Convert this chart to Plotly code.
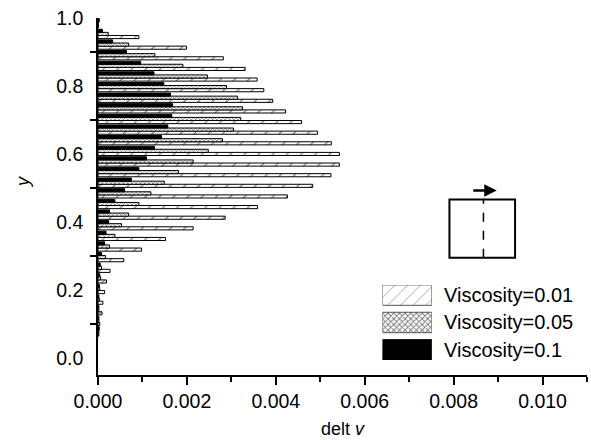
import plotly.graph_objects as go

# ---- data ----
# group index k -> y position (k + 0.5) / 32
group_k = [31, 30, 29, 28, 27, 26, 25, 24, 23, 22, 21, 20, 19, 18, 17, 16,
           15, 14, 13, 12, 11, 10, 9, 8, 7, 6, 5, 4, 3, 2]
y_pos = [(k + 0.5) / 32 for k in group_k]

dv_visc_001 = [0.00001, 0.00092, 0.00199, 0.00282, 0.00331, 0.00358, 0.00373, 0.00393,
               0.00422, 0.00458, 0.00494, 0.00525, 0.00543, 0.00543, 0.00524, 0.00483,
               0.00426, 0.00359, 0.00286, 0.00214, 0.00152, 0.00098, 0.00058, 0.00027,
               0.00019, 0.00015, 0.00011, 0.00009, 0.00004, 0.00002]
dv_visc_005 = [0.00001, 0.00023, 0.00069, 0.00128, 0.00191, 0.00246, 0.00289, 0.00314,
               0.00325, 0.00321, 0.00305, 0.00280, 0.00248, 0.00214, 0.00181, 0.00149,
               0.00119, 0.00092, 0.00069, 0.00053, 0.00038, 0.00026, 0.00017, 0.00008,
               0.00006, 0.00004, 0.00003, 0.00002, 0.00002, 0.00002]
dv_visc_01 = [0.00003, 0.00010, 0.00033, 0.00064, 0.00096, 0.00126, 0.00148, 0.00163,
              0.00168, 0.00166, 0.00157, 0.00143, 0.00127, 0.00109, 0.00092, 0.00075,
              0.00060, 0.00038, 0.00026, 0.00024, 0.00018, 0.00015, 0.00008, 0.00005,
              0.00004, 0.00003, 0.00002, 0.00002, 0.00002, 0.00003]

series_names = ["Viscosity=0.01", "Viscosity=0.05", "Viscosity=0.1"]
x_ticks = [0.000, 0.002, 0.004, 0.006, 0.008, 0.010]
y_ticks = [0.0, 0.2, 0.4, 0.6, 0.8, 1.0]
y_minor = [0.1, 0.3, 0.5, 0.7, 0.9]

# legend swatch rows (top to bottom)
legend_rows = [2, 1, 0]
legend_len = [1, 1, 1]

FONT = "Liberation Sans, Arial, sans-serif"

styles = [
    dict(color="white", pattern=dict(shape="/", fgcolor="black", bgcolor="white", size=10, solidity=0.12),
         line=dict(color="black", width=1)),
    dict(color="white", pattern=dict(shape="x", fgcolor="black", bgcolor="white", size=3, solidity=0.45),
         line=dict(color="black", width=1)),
    dict(color="black", line=dict(color="black", width=1)),
]
legend_styles = [
    dict(color="white", pattern=dict(shape="/", fgcolor="#444", bgcolor="white", size=9, solidity=0.1),
         line=dict(color="#555", width=1)),
    dict(color="white", pattern=dict(shape="x", fgcolor="black", bgcolor="white", size=4, solidity=0.45),
         line=dict(color="#555", width=1)),
    dict(color="black", line=dict(color="black", width=1)),
]

fig = go.Figure()
for name, vals, st in zip(series_names, [dv_visc_001, dv_visc_005, dv_visc_01], styles):
    fig.add_trace(go.Bar(x=vals, y=y_pos, orientation="h", name=name, marker=st,
                         showlegend=False, xaxis="x", yaxis="y"))

# legend swatches drawn as bars on an inset axis
for row, ln, st in zip(legend_rows, legend_len, legend_styles):
    fig.add_trace(go.Bar(x=[ln], y=[row], orientation="h", marker=st, width=0.746,
                         showlegend=False, xaxis="x2", yaxis="y2", hoverinfo="skip"))

fig.update_layout(
    width=591, height=440,
    margin=dict(l=97.5, r=4, t=18.3, b=62.7),
    paper_bgcolor="white", plot_bgcolor="white",
    barmode="group", bargap=0.12, bargroupgap=0,
    font=dict(family=FONT, size=19, color="black"),
    xaxis=dict(range=[0, 0.011], tickvals=x_ticks, ticktext=[f"{v:.3f}" for v in x_ticks],
               ticks="outside", ticklen=8, tickwidth=1.5, tickcolor="black",
               tickfont=dict(size=19.5),
               minor=dict(dtick=0.001, tick0=0, ticks="outside", ticklen=5, tickwidth=1.5, tickcolor="black"),
               showline=True, linecolor="black", linewidth=1.5, showgrid=False, zeroline=False,
               title=dict(text="delt <i>v</i>", font=dict(size=18), standoff=11)),
    yaxis=dict(range=[-0.0498, 1.0], tickvals=y_ticks, ticktext=[f"{v:.1f}" for v in y_ticks],
               ticks="", ticklabelstandoff=9, tickfont=dict(size=19.5),
               minor=dict(tickvals=y_minor, ticks="outside", ticklen=6, tickwidth=2, tickcolor="black"),
               showline=True, linecolor="black", linewidth=1.5, showgrid=False, zeroline=False),
    xaxis2=dict(domain=[0.5818, 0.6827], range=[0, 1], anchor="y2", visible=False, fixedrange=True),
    yaxis2=dict(domain=[0.0418, 0.2524], range=[-0.373, 2.373], anchor="x2", visible=False, fixedrange=True),
)

# y axis title
fig.add_annotation(x=-0.152, xref="paper", y=0.54, yref="paper", text="<i>y</i>", showarrow=False,
                   textangle=-90, xanchor="center", yanchor="middle", font=dict(size=18, family=FONT))

# legend texts
for row, name in zip(legend_rows, series_names):
    fig.add_annotation(x=0.7032, xref="paper", y=row, yref="y2", text=name, showarrow=False,
                       xanchor="left", yanchor="middle", font=dict(size=20, family=FONT))

# inset sketch: box with dashed centre line and arrow
fig.add_shape(type="rect", xref="paper", yref="paper", x0=0.7187, x1=0.8529, y0=0.3287, y1=0.4919,
              line=dict(color="black", width=2))
fig.add_shape(type="line", xref="paper", yref="paper", x0=0.7882, x1=0.7882, y0=0.3287, y1=0.4919,
              line=dict(color="black", width=1.5, dash="dash"))
fig.add_annotation(x=0.8155, y=0.517, xref="paper", yref="paper", ax=-25, ay=0,
                   showarrow=True, arrowhead=2, arrowsize=1, arrowwidth=2.5, arrowcolor="black", text="")

fig.write_html("out.html")
